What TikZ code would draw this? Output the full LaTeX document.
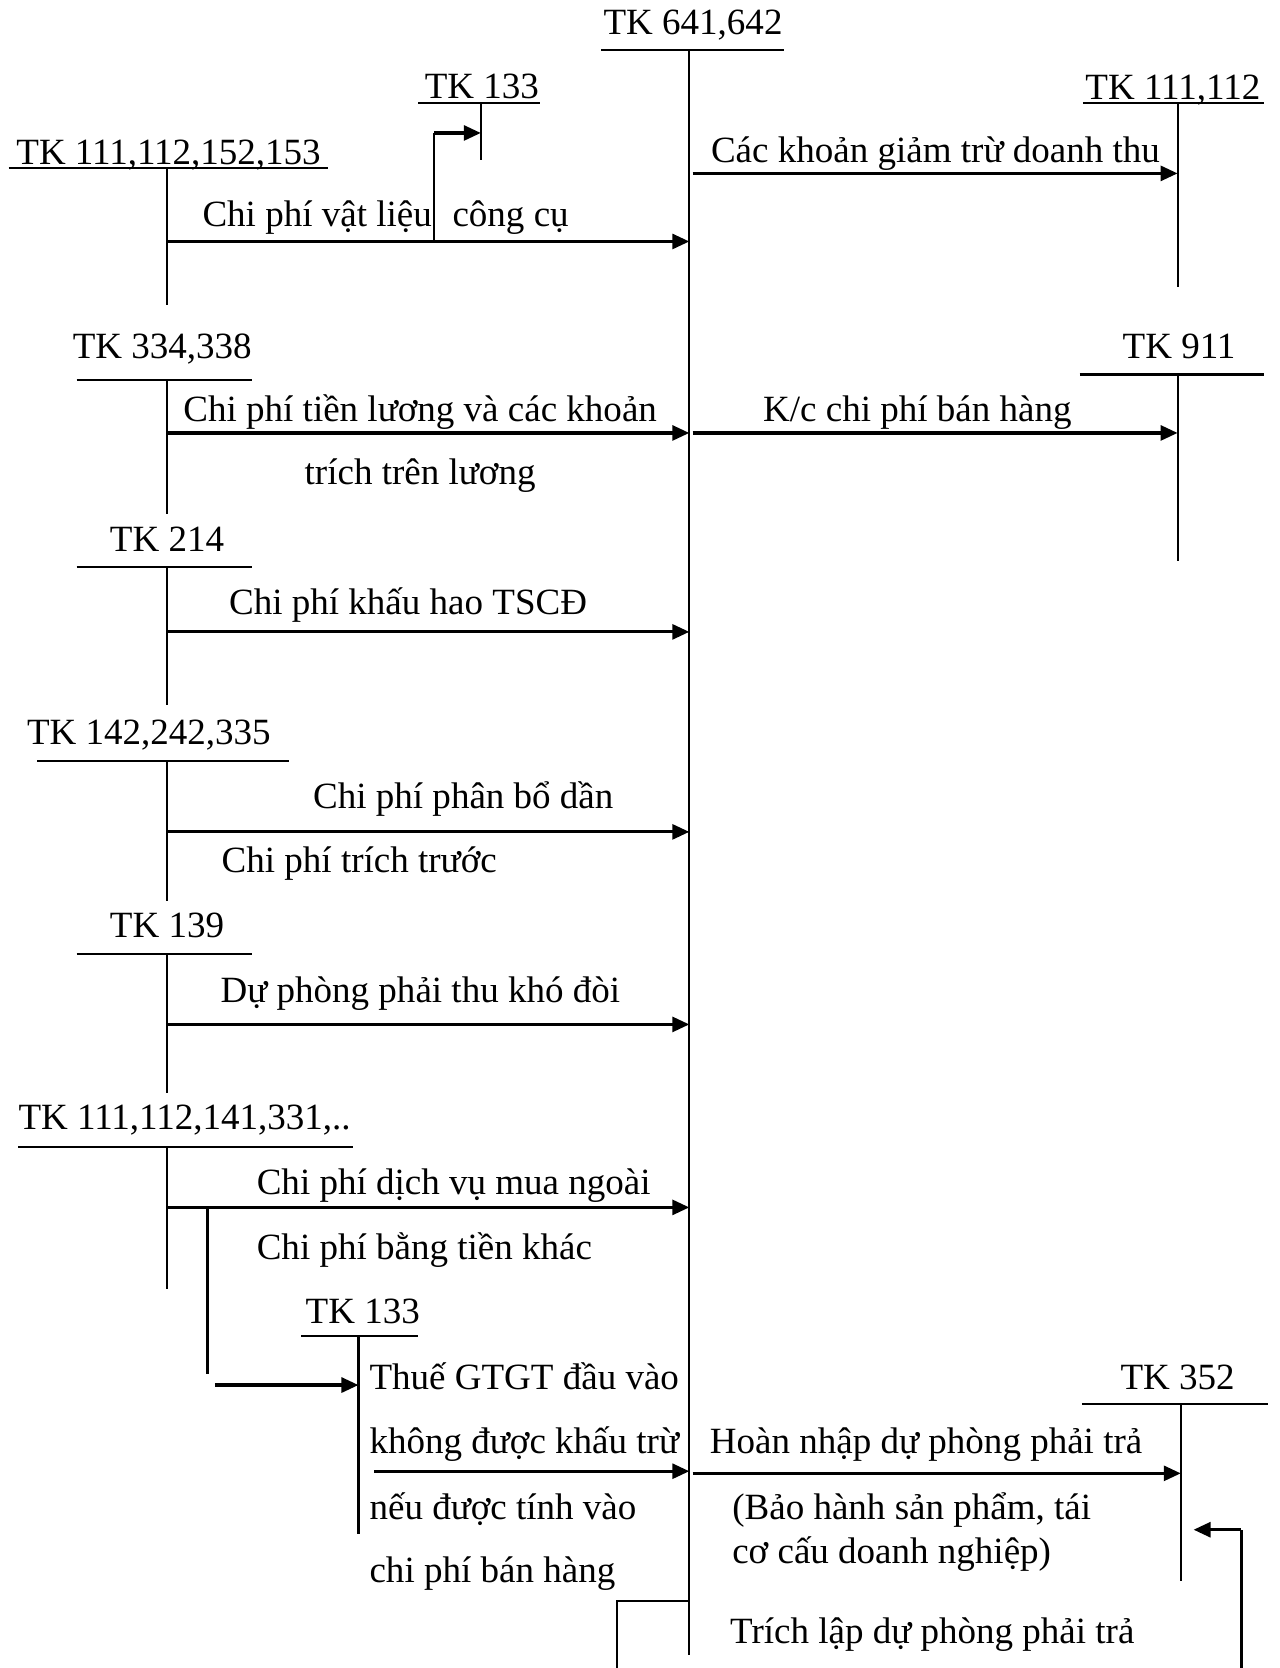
\documentclass[tikz,border=0pt]{standalone}
\usepackage{fontspec}
\setmainfont{Liberation Serif}
\usetikzlibrary{arrows.meta}
\begin{document}
\begin{tikzpicture}[x=0.5pt,y=-0.5pt,
  lbl/.style={font=\fontsize{17.4}{20}\selectfont, inner sep=0pt, anchor=base west},
  tline/.style={line width=1pt},
  arr/.style={line width=1.5pt, -{Triangle[length=8pt,width=7pt]}},
  thick line/.style={line width=1.5pt}]
\useasboundingbox (0,0) rectangle (1203,1568);

% ---------- main account TK 641,642
\node[lbl] (t641) at (567,32) {TK 641,642};
\coordinate (m1) at (565,47); \coordinate (m2) at (737,47);
\coordinate (mt) at (648,47); \coordinate (mb) at (648,1556);
\draw[tline] (m1) -- (m2);
\draw[tline] (mt) -- (mb);

% ---------- TK 133 (top)
\node[lbl] (t133a) at (399,93) {TK 133};
\coordinate (a1) at (393,97); \coordinate (a2) at (508,97);
\coordinate (at) at (452,97); \coordinate (ab) at (452,150);
\draw[tline] (a1) -- (a2);
\draw[tline] (at) -- (ab);

% ---------- TK 111,112,152,153
\node[lbl] (t111a) at (15,155) {TK 111,112,152,153};
\coordinate (b1) at (8,158); \coordinate (b2) at (308,158);
\coordinate (bt) at (157,158); \coordinate (bb) at (157,287);
\draw[tline] (b1) -- (b2);
\draw[tline] (bt) -- (bb);
\coordinate (ba) at (157,227); \coordinate (bm) at (648,227);
\draw[arr] (ba) -- (bm);
\node[lbl] (l1a) at (190,213) {Chi phí vật liệu};
\node[lbl] (l1b) at (425,213) {công cụ};
\coordinate (br1) at (408,227); \coordinate (br2) at (408,125); \coordinate (br3) at (452,125);
\draw[tline] (br1) -- (br2);
\draw[arr] (br2) -- (br3);

% ---------- TK 111,112 (right)
\node[lbl] (t111b) at (1020,94) {TK 111,112};
\coordinate (c1) at (1018,97); \coordinate (c2) at (1188,97);
\coordinate (ct) at (1107,97); \coordinate (cb) at (1107,270);
\draw[tline] (c1) -- (c2);
\draw[tline] (ct) -- (cb);
\coordinate (ca) at (651,163); \coordinate (cm) at (1107,163);
\draw[arr] (ca) -- (cm);
\node[lbl] (l2) at (668,153) {Các khoản giảm trừ doanh thu};

% ---------- TK 334,338
\node[lbl] (t334) at (68,337) {TK 334,338};
\coordinate (d1) at (72,357); \coordinate (d2) at (237,357);
\coordinate (dt) at (157,357); \coordinate (db) at (157,483);
\draw[tline] (d1) -- (d2);
\draw[tline] (dt) -- (db);
\coordinate (da) at (157,407); \coordinate (dm) at (648,407);
\draw[arr] (da) -- (dm);
\node[lbl] (l3a) at (172,396) {Chi phí tiền lương và các khoản};
\node[lbl] (l3b) at (286,455) {trích trên lương};

% ---------- TK 911
\node[lbl] (t911) at (1055,337) {TK 911};
\coordinate (e1) at (1015,352); \coordinate (e2) at (1188,352);
\coordinate (et) at (1107,352); \coordinate (eb) at (1107,527);
\draw[tline] (e1) -- (e2);
\draw[tline] (et) -- (eb);
\coordinate (ea) at (651,407); \coordinate (em) at (1107,407);
\draw[arr] (ea) -- (em);
\node[lbl] (l4) at (717,396) {K/c chi phí bán hàng};

% ---------- TK 214
\node[lbl] (t214) at (103,518) {TK 214};
\coordinate (f1) at (72,533); \coordinate (f2) at (237,533);
\coordinate (ft) at (157,533); \coordinate (fb) at (157,663);
\draw[tline] (f1) -- (f2);
\draw[tline] (ft) -- (fb);
\coordinate (fa) at (157,594); \coordinate (fm) at (648,594);
\draw[arr] (fa) -- (fm);
\node[lbl] (l5) at (215,578) {Chi phí khấu hao TSCĐ};

% ---------- TK 142,242,335
\node[lbl] (t142) at (25,700) {TK 142,242,335};
\coordinate (g1) at (35,715); \coordinate (g2) at (272,715);
\coordinate (gt) at (157,715); \coordinate (gb) at (157,847);
\draw[tline] (g1) -- (g2);
\draw[tline] (gt) -- (gb);
\coordinate (ga) at (157,782); \coordinate (gm) at (648,782);
\draw[arr] (ga) -- (gm);
\node[lbl] (l6a) at (294,760) {Chi phí phân bổ dần};
\node[lbl] (l6b) at (208,820) {Chi phí trích trước};

% ---------- TK 139
\node[lbl] (t139) at (103,881) {TK 139};
\coordinate (h1) at (72,897); \coordinate (h2) at (237,897);
\coordinate (ht) at (157,897); \coordinate (hb) at (157,1027);
\draw[tline] (h1) -- (h2);
\draw[tline] (ht) -- (hb);
\coordinate (ha) at (157,963); \coordinate (hm) at (648,963);
\draw[arr] (ha) -- (hm);
\node[lbl] (l7) at (207,942) {Dự phòng phải thu khó đòi};

% ---------- TK 111,112,141,331,..
\node[lbl] (t111c) at (17,1062) {TK 111,112,141,331,..};
\coordinate (i1) at (17,1078); \coordinate (i2) at (332,1078);
\coordinate (it) at (157,1078); \coordinate (ib) at (157,1212);
\draw[tline] (i1) -- (i2);
\draw[tline] (it) -- (ib);
\coordinate (ia) at (157,1135); \coordinate (im) at (648,1135);
\draw[arr] (ia) -- (im);
\node[lbl] (l8a) at (241,1123) {Chi phí dịch vụ mua ngoài};
\node[lbl] (l8b) at (241,1184) {Chi phí bằng tiền khác};
\coordinate (iv1) at (195,1135); \coordinate (iv2) at (195,1292);
\draw[tline] (iv1) -- (iv2);

% ---------- TK 133 (lower)
\node[lbl] (t133b) at (287,1244) {TK 133};
\coordinate (j1) at (283,1256); \coordinate (j2) at (393,1256);
\coordinate (jt) at (337,1256); \coordinate (jb) at (337,1442);
\draw[tline] (j1) -- (j2);
\draw[tline] (jt) -- (jb);
\coordinate (ja0) at (202,1302); \coordinate (ja1) at (337,1302);
\draw[arr] (ja0) -- (ja1);
\node[lbl] (l9a) at (347,1306) {Thuế GTGT đầu vào};
\node[lbl] (l9b) at (347,1366) {không được khấu trừ};
\node[lbl] (l9c) at (347,1428) {nếu được tính vào};
\node[lbl] (l9d) at (347,1488) {chi phí bán hàng};
\coordinate (ja) at (352,1383); \coordinate (jm) at (648,1383);
\draw[arr] (ja) -- (jm);

% ---------- TK 352
\node[lbl] (t352) at (1053,1306) {TK 352};
\coordinate (k1) at (1017,1320); \coordinate (k2) at (1192,1320);
\coordinate (kt) at (1110,1320); \coordinate (kb) at (1110,1486);
\draw[tline] (k1) -- (k2);
\draw[tline] (kt) -- (kb);
\coordinate (ka) at (651,1385); \coordinate (km) at (1110,1385);
\draw[arr] (ka) -- (km);
\node[lbl] (l10) at (667,1366) {Hoàn nhập dự phòng phải trả};
\node[lbl] (l11a) at (688,1428) {(Bảo hành sản phẩm, tái};
\node[lbl] (l11b) at (688,1470) {cơ cấu doanh nghiệp)};
\node[lbl] (l12) at (686,1545) {Trích lập dự phòng phải trả};
\coordinate (n1) at (648,1505); \coordinate (n2) at (580,1505); \coordinate (n3) at (580,1568);
\draw[tline] (n1) -- (n2) -- (n3);
\coordinate (p1) at (1167,1568); \coordinate (p2) at (1167,1438); \coordinate (p3) at (1122,1438);
\draw[tline] (p1) -- (p2);
\draw[arr] (p2) -- (p3);
\end{tikzpicture}
\end{document}
